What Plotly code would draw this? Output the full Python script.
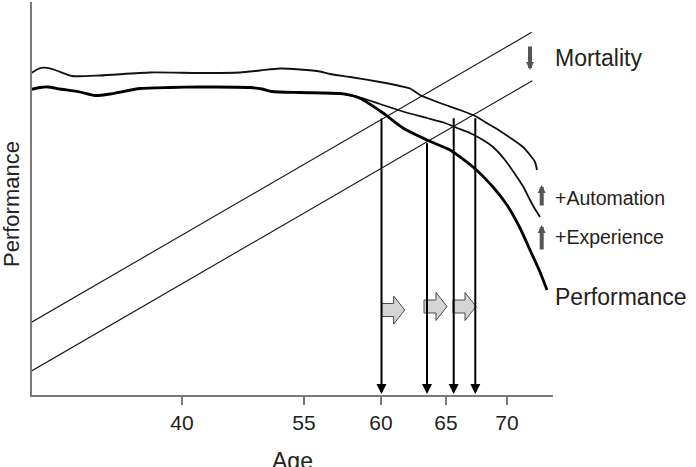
import plotly.graph_objects as go

# ---------------- data (chart units: x = position along age axis, y = performance) -------------
tick_pos = [150, 272, 349, 414, 475]
tick_age = ["40", "55", "60", "65", "70"]

top_x = [0, 6, 13, 23, 40, 68, 118, 168, 208, 228, 248, 268, 288, 298, 318, 348, 368, 378, 388,
         408, 428, 443, 458, 468, 480, 491, 498, 503, 505]
top_y = [322.3, 326, 327.3, 325, 319, 319.5, 322.5, 322, 322.5, 324.5, 326.5, 325.5, 323.5, 321,
         318, 313, 309, 306.5, 300, 292, 285, 279, 270, 264, 256, 248, 240, 233, 225]

auto_x = [313, 328, 348, 371, 395, 413, 425, 438, 451, 461, 473, 485, 492, 498, 503, 508]
auto_y = [300.5, 297.5, 291, 283.5, 277, 272, 267, 262, 255, 248, 235, 218, 207, 195, 186, 178]

perf_x = [0, 8, 16, 28, 48, 63, 78, 108, 138, 168, 218, 230, 240, 268, 308, 318, 328, 351, 371,
          395, 418, 441, 461, 475, 488, 498, 508, 515]
perf_y = [305.7, 307.5, 308, 306, 303, 299.5, 301, 306.5, 307.5, 308, 307.5, 306, 303.5, 302.5,
          301.5, 300, 296.7, 282, 267, 255, 245, 228, 208, 190, 167, 145, 123, 105]

diag_upper_x = [0, 499.7]
diag_upper_y = [73, 362.7]
diag_lower_x = [0, 500.3]
diag_lower_y = [24.3, 314.3]

# vertical drop arrows (retirement ages)
drop_x = [349.5, 395, 421.7, 443.3]
drop_top = [278, 253.3, 278.3, 278.3]

# grey block arrows (shift of retirement age)
shift_x = [349.7, 392, 421]
shift_y = [85, 88.5, 88.5]

# side labels
labels = ["Mortality", "+Automation", "+Experience", "Performance"]
label_y = [337, 197.3, 158.3, 98.3]
label_size = [23, 19.5, 19.5, 23]
small_arrow_x = [498, 509.7, 509.7]
small_arrow_tail = [350, 188, 144]
small_arrow_tip = [325, 210, 170]

X_MAX, Y_MAX = 521, 393
FONT = "Liberation Sans, Arial, sans-serif"
TXT = "#222222"
AX = "#7a7a7a"

fig = go.Figure()
fig.add_trace(go.Scatter(x=diag_upper_x, y=diag_upper_y, mode="lines",
                         line=dict(color="#111", width=1.1), hoverinfo="skip"))
fig.add_trace(go.Scatter(x=diag_lower_x, y=diag_lower_y, mode="lines",
                         line=dict(color="#111", width=1.1), hoverinfo="skip"))
fig.add_trace(go.Scatter(x=top_x, y=top_y, mode="lines",
                         line=dict(color="#111", width=1.8, shape="spline", smoothing=0.6)))
fig.add_trace(go.Scatter(x=auto_x, y=auto_y, mode="lines",
                         line=dict(color="#111", width=1.8, shape="spline", smoothing=0.6)))
fig.add_trace(go.Scatter(x=perf_x, y=perf_y, mode="lines",
                         line=dict(color="#000", width=2.8, shape="spline", smoothing=0.6)))

annotations = []
for x, t in zip(drop_x, drop_top):
    annotations.append(dict(x=x, y=1, ax=x, ay=t, xref="x", yref="y", axref="x", ayref="y",
                            text="", showarrow=True, arrowhead=2, arrowsize=1, arrowwidth=2,
                            arrowcolor="#000"))
for x, tail, tip in zip(small_arrow_x, small_arrow_tail, small_arrow_tip):
    annotations.append(dict(x=x, y=tip, ax=x, ay=tail, xref="x", yref="y", axref="x", ayref="y",
                            text="", showarrow=True, arrowhead=2, arrowsize=0.4, arrowwidth=4,
                            arrowcolor="#555"))
for t, y, s in zip(labels, label_y, label_size):
    annotations.append(dict(x=(553 - 32) / X_MAX, xref="paper", y=y / Y_MAX, yref="paper",
                            text=t, showarrow=False, xanchor="left", yanchor="middle",
                            font=dict(family=FONT, size=s, color=TXT)))
# axis titles
annotations.append(dict(x=0.5, xref="paper", y=-66 / Y_MAX, yref="paper", text="Age",
                        showarrow=False, xanchor="center", yanchor="middle",
                        font=dict(family=FONT, size=23, color=TXT)))
annotations.append(dict(x=-21 / X_MAX, xref="paper", y=(395 - 204) / Y_MAX, yref="paper",
                        text="Performance", textangle=-90, showarrow=False,
                        xanchor="center", yanchor="middle",
                        font=dict(family=FONT, size=22, color=TXT)))

shapes = []
body_len, head_len, body_h, head_h = 12, 11, 6.5, 14
for x0, yc in zip(shift_x, shift_y):
    xb = x0 + body_len
    xt = xb + head_len
    path = (f"M {x0},{yc - body_h} L {xb},{yc - body_h} L {xb},{yc - head_h} L {xt},{yc} "
            f"L {xb},{yc + head_h} L {xb},{yc + body_h} L {x0},{yc + body_h} Z")
    shapes.append(dict(type="path", xref="x", yref="y", path=path,
                       fillcolor="#d4d4d4", line=dict(color="#4a4a4a", width=1)))

fig.update_layout(
    width=696, height=467,
    margin=dict(l=32, r=696 - 553, t=2, b=467 - 395),
    paper_bgcolor="white", plot_bgcolor="white",
    showlegend=False,
    xaxis=dict(range=[0, X_MAX], showgrid=False, zeroline=False, showline=True,
               linecolor=AX, linewidth=2, ticks="outside", ticklen=8, tickwidth=2,
               tickcolor=AX, tickvals=tick_pos, ticktext=tick_age,
               tickfont=dict(family=FONT, size=21, color=TXT), fixedrange=True),
    yaxis=dict(range=[0, Y_MAX], showgrid=False, zeroline=False, showline=True,
               linecolor=AX, linewidth=2, showticklabels=False, ticks="", fixedrange=True),
    annotations=annotations,
    shapes=shapes,
)

fig.write_html("out.html")
